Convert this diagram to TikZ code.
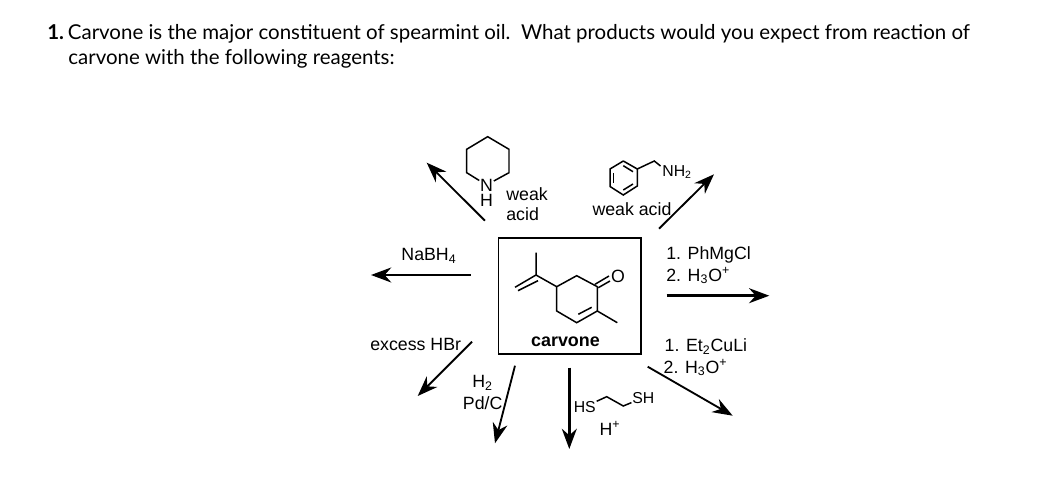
\documentclass[tikz,border=0pt]{standalone}
\usepackage{fontspec}
\setmainfont{Liberation Sans}
\newfontfamily\headfont{Lato}
\usetikzlibrary{arrows.meta}
\tikzset{
  reagent/.style={inner sep=0pt, font=\fontsize{10.1}{12}\selectfont},
  headline/.style={inner sep=0pt, anchor=west, font=\headfont\fontsize{11.65}{14}\selectfont},
  atom/.style={inner sep=0.3pt, font=\fontsize{10.1}{12}\selectfont},
  smallatom/.style={inner sep=0.3pt, font=\fontsize{9}{11}\selectfont},
  bond/.style={line width=0.85pt},
  rxn/.style={line width=1.05pt, -{Stealth[length=11.5pt,width=8.5pt]}},
  rxnbold/.style={line width=1.5pt, -{Stealth[length=11.5pt,width=8.5pt]}}
}

\begin{document}
\begin{tikzpicture}[x=0.02cm, y=-0.02cm]
  \useasboundingbox (0, 0) rectangle (1056, 479);
  % question
  \node [headline] (Qa) at (47, 34) {\textbf{1.} \kern-1.8pt Carvone is the major constituent of spearmint oil.\ \ What products would you expect from reaction of};
  \node [headline] (Qb) at (68, 59) {carvone with the following reagents:};
  % box with carvone
  \node [draw, line width=1pt, inner sep=0pt, minimum width=2.85cm, minimum height=2.33cm] (Box) at (569.7, 296) {};
  \node [font=\bfseries\fontsize{10.2}{12}\selectfont, inner sep=0pt] (Carvone) at (565.5, 341.5) {carvone};
  \coordinate (Ca) at (597.3, 286.7);
  \coordinate (Cb) at (597.3, 311);
  \coordinate (Cc) at (576.7, 322.7);
  \coordinate (Cd) at (556.7, 311);
  \coordinate (Ce) at (556.7, 286.7);
  \coordinate (Cf) at (576.7, 275.7);
  \coordinate (Cg) at (536, 275);
  \coordinate (Ch) at (536, 252.7);
  \coordinate (Ci) at (617.3, 322.7);
  \node [atom] (O) at (618, 276) {O};
  \draw [bond, line cap=round] (Ca) -- (Cb) -- (Cc) -- (Cd) -- (Ce) -- (Cf) -- (Ca);
  \draw [bond] (Ce) -- (Cg) -- (Ch);
  \draw [bond] (Cg) -- (515, 287.3);
  \draw [bond] (538, 280.7) -- (518, 290.7);
  \draw [bond] (Cb) -- (Ci);
  \draw [bond] (578.3, 314.3) -- (591.7, 307.3);
  \draw [bond] (595, 284.3) -- (609, 276);
  \draw [bond] (598.3, 287.7) -- (610, 281);
  % piperidine
  \node [atom] (N) at (486.5, 185) {N};
  \node [atom] (H) at (486.5, 200.5) {H};
  \coordinate (Pa) at (466.7, 172.7);
  \coordinate (Pb) at (466.7, 149.3);
  \coordinate (Pc) at (487.7, 136.7);
  \coordinate (Pd) at (509, 149.3);
  \coordinate (Pe) at (509, 172.7);
  \draw [bond] (N) -- (Pa) -- (Pb) -- (Pc) -- (Pd) -- (Pe) -- (N);
  \node [reagent, anchor=west] (WeakA) at (506, 194) {weak};
  \node [reagent, anchor=west] (AcidA) at (506, 214) {acid};
  \coordinate (ULs) at (485, 220.7);
  \coordinate (ULe) at (426.7, 162.7);
  \draw [rxn] (ULs) -- (ULe);
  % benzylamine
  \coordinate (Ba) at (623.3, 161);
  \coordinate (Bb) at (637.3, 169);
  \coordinate (Bc) at (637.3, 186);
  \coordinate (Bd) at (623.3, 195);
  \coordinate (Be) at (610, 186.5);
  \coordinate (Bf) at (610, 169);
  \coordinate (Bg) at (654.3, 161);
  \node [smallatom, anchor=west, inner sep=0pt] (NH) at (662, 172) {NH\textsubscript{2}};
  \draw [bond] (Ba) -- (Bb) -- (Bc) -- (Bd) -- (Be) -- (Bf) -- (Ba);
  \draw [bond] (Bb) -- (Bg) -- (660.5, 166);
  \draw [bond] (613.3, 173) -- (613.3, 183);
  \draw [bond] (623.3, 165.7) -- (633, 171.7);
  \draw [bond] (623.3, 190) -- (633, 184);
  \node [reagent] (WeakB) at (632, 209) {weak acid};
  \coordinate (URs) at (659, 228.7);
  \coordinate (URe) at (714, 174.3);
  \draw [rxn] (URs) -- (URe);
  % left
  \node [reagent] (NaBH) at (429, 256) {NaBH\textsubscript{4}};
  \coordinate (Ls) at (470.7, 275);
  \coordinate (Le) at (371, 275);
  \draw [rxnbold] (Ls) -- (Le);
  % right
  \node [reagent, anchor=west] (PhMg) at (666, 255) {1. PhMgCl};
  \node [reagent, anchor=west] (HthreeA) at (666, 275.7) {2. H\textsubscript{3}O\textsuperscript{+}};
  \coordinate (Rs) at (666.7, 295.7);
  \coordinate (Re) at (769.3, 295.7);
  \draw [rxnbold] (Rs) -- (Re);
  % lower left
  \node [reagent, anchor=west] (HBr) at (370, 344) {excess HBr};
  \coordinate (LLs) at (472, 341.7);
  \coordinate (LLe) at (417.7, 396);
  \draw [rxn] (LLs) -- (LLe);
  \node [reagent] (Htwo) at (482.7, 383) {H\textsubscript{2}};
  \node [reagent] (Pd) at (482.7, 403.3) {Pd/C};
  \coordinate (DLs) at (515, 365.7);
  \coordinate (DLe) at (495, 443.3);
  \draw [rxn] (DLs) -- (DLe);
  % down
  \coordinate (Ds) at (569.3, 367.7);
  \coordinate (De) at (569.3, 449);
  \draw [rxnbold] (Ds) -- (De);
  \node [smallatom] (HS) at (584.8, 406.7) {HS};
  \node [smallatom] (SH) at (643.3, 397.7) {SH};
  \coordinate (Sa) at (606.7, 396.7);
  \coordinate (Sb) at (623.3, 406);
  \draw [bond] (HS) -- (Sa) -- (Sb) -- (SH);
  \node [reagent] (Hplus) at (610, 428.3) {H\textsuperscript{+}};
  % lower right
  \node [reagent, anchor=west] (Et) at (664.3, 346.7) {1. Et\textsubscript{2}CuLi};
  \node [reagent, anchor=west] (HthreeB) at (663.3, 367.7) {2. H\textsubscript{3}O\textsuperscript{+}};
  \coordinate (LRs) at (647.7, 366.7);
  \coordinate (LRe) at (732.7, 415.7);
  \draw [rxn] (LRs) -- (LRe);
\end{tikzpicture}
\end{document}
